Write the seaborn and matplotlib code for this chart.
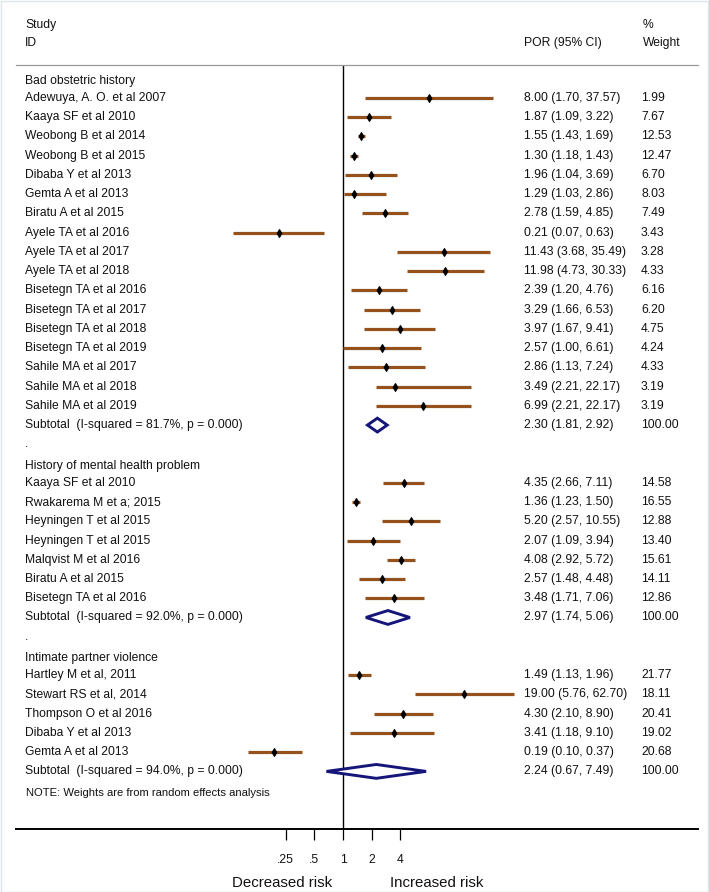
import numpy as np
import pandas as pd
import matplotlib
matplotlib.use("Agg")
import matplotlib.pyplot as plt
import matplotlib.transforms as mtransforms
from matplotlib.patches import Polygon, Rectangle
import seaborn as sns

# ---------------- data ----------------
group_names = ["Bad obstetric history",
               "History of mental health problem",
               "Intimate partner violence"]

g1_studies = ["Adewuya, A. O. et al 2007", "Kaaya SF et al 2010", "Weobong B et al 2014",
              "Weobong B et al 2015", "Dibaba Y et al 2013", "Gemta A et al 2013",
              "Biratu A et al 2015", "Ayele TA et al 2016", "Ayele TA et al 2017",
              "Ayele TA et al 2018", "Bisetegn TA et al 2016", "Bisetegn TA et al 2017",
              "Bisetegn TA et al 2018", "Bisetegn TA et al 2019", "Sahile MA et al 2017",
              "Sahile MA et al 2018", "Sahile MA et al 2019"]
g1_por = [8.00, 1.87, 1.55, 1.30, 1.96, 1.29, 2.78, 0.21, 11.43, 11.98, 2.39, 3.29, 3.97, 2.57, 2.86, 3.49, 6.99]
g1_lo = [1.70, 1.09, 1.43, 1.18, 1.04, 1.03, 1.59, 0.07, 3.68, 4.73, 1.20, 1.66, 1.67, 1.00, 1.13, 2.21, 2.21]
g1_hi = [37.57, 3.22, 1.69, 1.43, 3.69, 2.86, 4.85, 0.63, 35.49, 30.33, 4.76, 6.53, 9.41, 6.61, 7.24, 22.17, 22.17]
g1_weight = [1.99, 7.67, 12.53, 12.47, 6.70, 8.03, 7.49, 3.43, 3.28, 4.33, 6.16, 6.20, 4.75, 4.24, 4.33, 3.19, 3.19]
g1_subtotal = ["Subtotal  (I-squared = 81.7%, p = 0.000)", 2.30, 1.81, 2.92]

g2_studies = ["Kaaya SF et al 2010", "Rwakarema M et a; 2015", "Heyningen T et al 2015",
              "Heyningen T et al 2015", "Malqvist M et al 2016", "Biratu A et al 2015",
              "Bisetegn TA et al 2016"]
g2_por = [4.35, 1.36, 5.20, 2.07, 4.08, 2.57, 3.48]
g2_lo = [2.66, 1.23, 2.57, 1.09, 2.92, 1.48, 1.71]
g2_hi = [7.11, 1.50, 10.55, 3.94, 5.72, 4.48, 7.06]
g2_weight = [14.58, 16.55, 12.88, 13.40, 15.61, 14.11, 12.86]
g2_subtotal = ["Subtotal  (I-squared = 92.0%, p = 0.000)", 2.97, 1.74, 5.06]

g3_studies = ["Hartley M et al, 2011", "Stewart RS et al, 2014", "Thompson O et al 2016",
              "Dibaba Y et al 2013", "Gemta A et al 2013"]
g3_por = [1.49, 19.00, 4.30, 3.41, 0.19]
g3_lo = [1.13, 5.76, 2.10, 1.18, 0.10]
g3_hi = [1.96, 62.70, 8.90, 9.10, 0.37]
g3_weight = [21.77, 18.11, 20.41, 19.02, 20.68]
g3_subtotal = ["Subtotal  (I-squared = 94.0%, p = 0.000)", 2.24, 0.67, 7.49]

tick_values = [0.25, 0.5, 1, 2, 4]
tick_labels = [".25", ".5", "1", "2", "4"]
note_text = "NOTE: Weights are from random effects analysis"

groups = [
    (group_names[0], g1_studies, g1_por, g1_lo, g1_hi, g1_weight, g1_subtotal),
    (group_names[1], g2_studies, g2_por, g2_lo, g2_hi, g2_weight, g2_subtotal),
    (group_names[2], g3_studies, g3_por, g3_lo, g3_hi, g3_weight, g3_subtotal),
]

# ---------------- build table ----------------
study_rows, sub_rows, text_rows = [], [], []
r = -1
for gi, (gname, st, por, lo, hi, wt, sub) in enumerate(groups):
    text_rows.append((r, gname))
    r += 1
    for s, p, l, h, w in zip(st, por, lo, hi, wt):
        study_rows.append(dict(row=r, label=s, por=p, lo=l, hi=h, weight=w))
        r += 1
    sub_rows.append(dict(row=r, label=sub[0], por=sub[1], lo=sub[2], hi=sub[3], weight=100.00))
    r += 1
    if gi < len(groups) - 1:
        text_rows.append((r, "."))
        r += 1
note_row = r + 0.1

df = pd.DataFrame(study_rows)
dsub = pd.DataFrame(sub_rows)

# ---------------- style ----------------
sns.set_theme(style="white")
plt.rcParams["font.family"] = ["Liberation Sans", "DejaVu Sans"]
TXT = "#111111"
BROWN = "#96521c"
NAVY = "#15157a"
FS = 8.75

W, H = 709, 892
fig = plt.figure(figsize=(W / 100, H / 100), dpi=100)
fig.patch.set_facecolor("white")

ax_l, ax_r = 16, 698
ax_t, ax_b = 65, 829
ax = fig.add_axes([ax_l / W, 1 - ax_b / H, (ax_r - ax_l) / W, (ax_b - ax_t) / H])
ax.set_facecolor("white")

ax.set_xscale("log", base=2)
ax.set_xlim(2 ** ((ax_l - 343) / 28.6), 2 ** ((ax_r - 343) / 28.6))
row_px = 19.24
ax.set_ylim((ax_b - 98) / row_px, (ax_t - 98) / row_px)

# CI lines
ax.hlines(df["row"], df["lo"], df["hi"], color=BROWN, lw=2.3, zorder=2)
# point estimates
sns.scatterplot(data=df, x="por", y="row", marker="d", s=16, color="black",
                edgecolor="black", linewidth=0.8, ax=ax, zorder=3, legend=False)
# subtotal diamonds
hh = 0.36
for _, d in dsub.iterrows():
    poly = Polygon([(d.lo, d.row), (d.por, d.row - hh), (d.hi, d.row), (d.por, d.row + hh)],
                   closed=True, facecolor="white", edgecolor=NAVY, lw=2.1, zorder=3)
    ax.add_patch(poly)

# null line
ax.axvline(1, color="black", lw=1.0, zorder=1)

# axes decoration
for side in ["left", "right"]:
    ax.spines[side].set_visible(False)
ax.spines["top"].set_color("#9a9a9a")
ax.spines["top"].set_linewidth(0.9)
ax.spines["bottom"].set_color("black")
ax.spines["bottom"].set_linewidth(1.4)
ax.set_yticks([])
ax.set_xticks(tick_values)
ax.set_xticklabels(tick_labels)
ax.xaxis.set_minor_locator(matplotlib.ticker.NullLocator())
ax.tick_params(axis="x", which="major", direction="out", length=8, width=0.9,
               color="black", pad=10, labelsize=FS, labelcolor=TXT, bottom=True)
ax.set_xlabel("")
ax.set_ylabel("")

# ---------------- text ----------------
tr = mtransforms.blended_transform_factory(fig.transFigure, ax.transData)
X_LAB, X_POR, X_WT, X_WTH = 25 / W, 524 / W, 641 / W, 643 / W

def put(x, y, s, **kw):
    ax.text(x, y, s, transform=tr, fontsize=kw.pop("fontsize", FS), color=TXT,
            va="center", ha=kw.pop("ha", "left"), clip_on=False, **kw)

put(X_LAB, -3.8, "Study")
put(X_LAB, -2.88, "ID")
put(X_POR, -2.88, "POR (95% CI)")
put(X_WTH, -3.8, "%")
put(X_WTH, -2.88, "Weight")

for rr, s in text_rows:
    put(X_LAB, rr + (0.12 if s != "." else 0), s)

for tab in (df, dsub):
    for _, d in tab.iterrows():
        put(X_LAB, d.row, d.label)
        put(X_POR, d.row, f"{d.por:.2f} ({d.lo:.2f}, {d.hi:.2f})")
        put(X_WT, d.row, f"{d.weight:.2f}")

put(X_LAB + 1 / W, note_row, note_text, fontsize=FS * 0.93)

fig.text(282 / W, 1 - 883 / H, "Decreased risk", ha="center", va="center",
         fontsize=10.8, color=TXT)
fig.text(437 / W, 1 - 883 / H, "Increased risk", ha="center", va="center",
         fontsize=10.8, color=TXT)

# faint outer frame
fig.patches.append(Rectangle((0.5 / W, 0.5 / H), 1 - 1.5 / W, 1 - 1.5 / H,
                             transform=fig.transFigure, fill=False,
                             edgecolor="#dde6ea", lw=1.0))

fig.savefig("out.png", dpi=100, facecolor="white")
